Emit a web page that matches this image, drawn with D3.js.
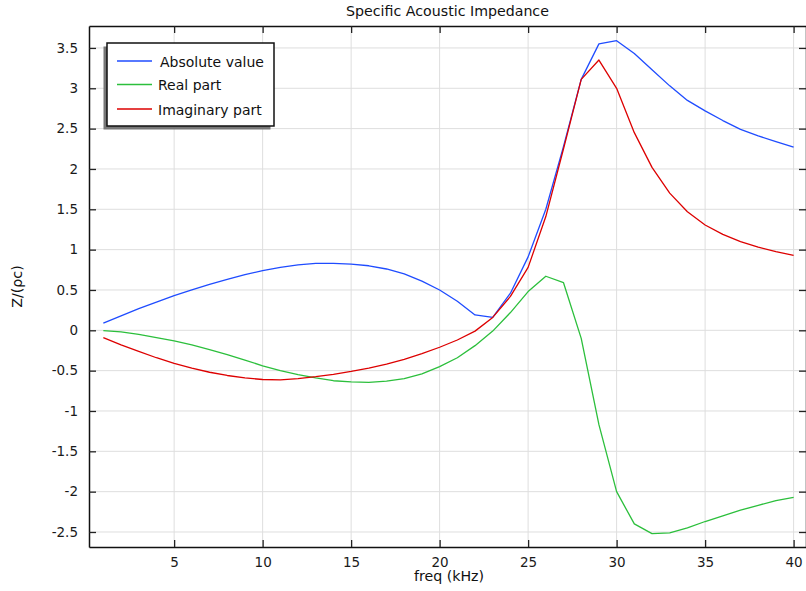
<!DOCTYPE html>
<html>
<head>
<meta charset="utf-8">
<script src="https://cdn.jsdelivr.net/npm/d3@7"></script>
<style>
  html, body { margin: 0; padding: 0; background: #fff; }
  svg { display: block; font-family: "DejaVu Sans", Verdana, sans-serif; }
</style>
</head>
<body>
<svg id="chart" width="806" height="591"></svg>
<script>
const freq = d3.range(1, 41);
const absValue = [0.09, 0.18, 0.27, 0.35, 0.43, 0.50, 0.57, 0.63, 0.69, 0.74,
  0.78, 0.81, 0.83, 0.83, 0.82, 0.80, 0.76, 0.70, 0.61, 0.50,
  0.36, 0.19, 0.16, 0.46, 0.91, 1.50, 2.28, 3.11, 3.55, 3.59,
  3.43, 3.23, 3.03, 2.85, 2.72, 2.60, 2.49, 2.41, 2.34, 2.27];
const realPart = [-0.005, -0.02, -0.05, -0.09, -0.13, -0.18, -0.24, -0.30, -0.37, -0.44,
  -0.50, -0.55, -0.59, -0.625, -0.64, -0.645, -0.63, -0.60, -0.54, -0.45,
  -0.34, -0.19, -0.01, 0.22, 0.48, 0.67, 0.59, -0.10, -1.17, -2.0,
  -2.40, -2.52, -2.51, -2.45, -2.37, -2.30, -2.23, -2.17, -2.11, -2.07];
const imagPart = [-0.09, -0.18, -0.26, -0.34, -0.41, -0.47, -0.52, -0.56, -0.59, -0.61,
  -0.615, -0.60, -0.575, -0.545, -0.51, -0.47, -0.42, -0.36, -0.29, -0.21,
  -0.12, -0.01, 0.16, 0.42, 0.78, 1.41, 2.25, 3.11, 3.35, 3.0,
  2.45, 2.02, 1.70, 1.47, 1.305, 1.19, 1.10, 1.03, 0.975, 0.93];
const seriesNames = ["Absolute value", "Real part", "Imaginary part"];
const seriesColors = ["#1f4cff", "#2cbf3c", "#dd0000"];
const xTicks = [5, 10, 15, 20, 25, 30, 35, 40];
const yTicks = [-2.5, -2, -1.5, -1, -0.5, 0, 0.5, 1, 1.5, 2, 2.5, 3, 3.5];
const titleText = "Specific Acoustic Impedance";
const xLabel = "freq (kHz)";
const yLabel = "Z/(\u03C1c)";

(function () {
const svg = d3.select("#chart");
const L = 89, R = 806, T = 26, B = 547;
const x = d3.scaleLinear().domain([0.19, 40.7]).range([L, R]);
const y = d3.scaleLinear().domain([-2.686, 3.772]).range([B, T]);
const fmt = v => String(v);

// grid
const grid = svg.append("g");
grid.selectAll("line.gx").data(xTicks).join("line")
  .attr("x1", d => x(d)).attr("x2", d => x(d)).attr("y1", T).attr("y2", B)
  .attr("stroke", "#dedede").attr("stroke-width", 1);
grid.selectAll("line.gy").data(yTicks).join("line")
  .attr("x1", L).attr("x2", R).attr("y1", d => y(d)).attr("y2", d => y(d))
  .attr("stroke", "#dedede").attr("stroke-width", 1);

// lines
const series = [absValue, realPart, imagPart];
const lineGen = d3.line().x((d, i) => x(freq[i])).y(d => y(d));
svg.append("g").selectAll("path").data(series).join("path")
  .attr("d", d => lineGen(d))
  .attr("fill", "none")
  .attr("stroke", (d, i) => seriesColors[i])
  .attr("stroke-width", 1.3)
  .attr("stroke-linejoin", "round");

// axes
const axisColor = "#111";
const gBottom = svg.append("g").attr("transform", `translate(0,${B})`)
  .call(d3.axisBottom(x).tickValues(xTicks).tickFormat(fmt).tickSizeInner(-7).tickSizeOuter(0).tickPadding(10));
const gLeft = svg.append("g").attr("transform", `translate(${L},0)`)
  .call(d3.axisLeft(y).tickValues(yTicks).tickFormat(fmt).tickSizeInner(-7).tickSizeOuter(0).tickPadding(11));
const gTop = svg.append("g").attr("transform", `translate(0,${T})`)
  .call(d3.axisTop(x).tickValues(xTicks).tickFormat("").tickSizeInner(-7).tickSizeOuter(0));
const gRight = svg.append("g").attr("transform", `translate(${R},0)`)
  .call(d3.axisRight(y).tickValues(yTicks).tickFormat("").tickSizeInner(-7).tickSizeOuter(0));
[gBottom, gLeft, gTop, gRight].forEach(g => {
  g.select(".domain").attr("stroke", axisColor).attr("stroke-width", 1.5);
  g.selectAll(".tick line").attr("stroke", "#222").attr("stroke-width", 1.3);
  g.selectAll(".tick text").attr("fill", "#1a1a1a").attr("font-size", 13.5)
    .attr("font-family", "DejaVu Sans, sans-serif");
});
gBottom.selectAll(".tick text").attr("dy", "0.71em");

// title & labels
svg.append("text").attr("x", (L + R) / 2).attr("y", 16).attr("text-anchor", "middle")
  .attr("font-size", 14.2).attr("fill", "#111").text(titleText);
svg.append("text").attr("x", 449).attr("y", 581).attr("text-anchor", "middle")
  .attr("font-size", 14.2).attr("fill", "#111").text(xLabel);
svg.append("text").attr("transform", `translate(22,${(T + B) / 2}) rotate(-90)`)
  .attr("text-anchor", "middle").attr("font-size", 14.2).attr("fill", "#111").text(yLabel);

// legend
const lg = svg.append("g");
lg.append("rect").attr("x", 103.5).attr("y", 46.5).attr("width", 167).attr("height", 83)
  .attr("fill", "#777");
lg.append("rect").attr("x", 107).attr("y", 43).attr("width", 167).attr("height", 83)
  .attr("fill", "#fff").attr("stroke", "#111").attr("stroke-width", 1.5);
const rowsY = [61, 84.5, 109];
const textX = [160, 158, 158];
seriesNames.forEach((name, i) => {
  lg.append("line").attr("x1", 117).attr("x2", 152).attr("y1", rowsY[i]).attr("y2", rowsY[i])
    .attr("stroke", seriesColors[i]).attr("stroke-width", 1.3);
  lg.append("text").attr("x", textX[i]).attr("y", rowsY[i] + 5.5)
    .attr("font-size", 14).attr("fill", "#111").text(name);
});
})();
</script>
</body>
</html>
